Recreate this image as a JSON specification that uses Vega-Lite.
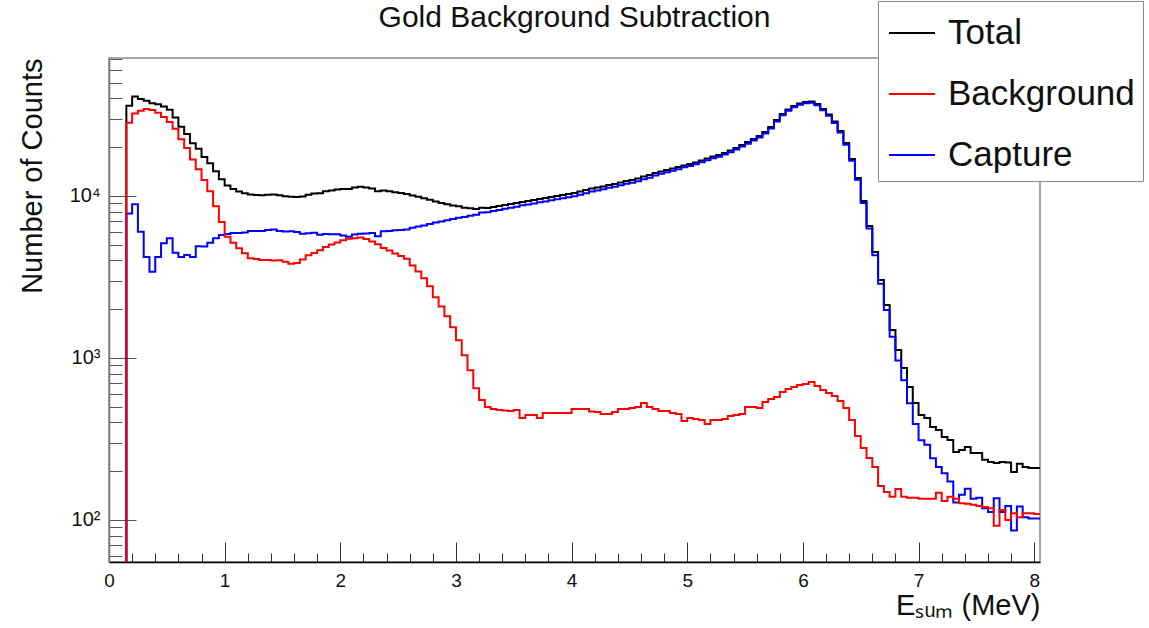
{
  "$schema": "https://vega.github.io/schema/vega-lite/v6.json",
  "width": 931,
  "height": 504,
  "autosize": {"type": "none"},
  "padding": {"left": 109, "top": 58, "right": 109, "bottom": 66},
  "background": "white",
  "config": {
    "view": {"stroke": "#8a8a8a", "strokeWidth": 1.5},
    "font": "Liberation Sans"
  },
  "title": {
    "text": "Gold Background Subtraction",
    "fontSize": 30,
    "font": "Liberation Sans",
    "fontWeight": "normal",
    "color": "#111111",
    "anchor": "middle",
    "frame": "group",
    "baseline": "alphabetic",
    "offset": -56
  },
  "data": {
    "values": [
      {"E": 0.10, "Total": 1, "Background": 1, "Capture": 1},
      {"E": 0.15, "Total": 36100, "Background": 28300, "Capture": 7800},
      {"E": 0.20, "Total": 41200, "Background": 32300, "Capture": 8900},
      {"E": 0.25, "Total": 39700, "Background": 33600, "Capture": 6020},
      {"E": 0.30, "Total": 38700, "Background": 34400, "Capture": 4200},
      {"E": 0.35, "Total": 37400, "Background": 33900, "Capture": 3410},
      {"E": 0.40, "Total": 36900, "Background": 32700, "Capture": 4200},
      {"E": 0.45, "Total": 35700, "Background": 30700, "Capture": 5100},
      {"E": 0.50, "Total": 34100, "Background": 28600, "Capture": 5480},
      {"E": 0.55, "Total": 30500, "Background": 26000, "Capture": 4470},
      {"E": 0.60, "Total": 26800, "Background": 22400, "Capture": 4200},
      {"E": 0.65, "Total": 24100, "Background": 19750, "Capture": 4320},
      {"E": 0.70, "Total": 21200, "Background": 16800, "Capture": 4200},
      {"E": 0.75, "Total": 19600, "Background": 14600, "Capture": 4900},
      {"E": 0.80, "Total": 17400, "Background": 12560, "Capture": 4870},
      {"E": 0.85, "Total": 15900, "Background": 10700, "Capture": 5150},
      {"E": 0.90, "Total": 14200, "Background": 8650, "Capture": 5480},
      {"E": 0.95, "Total": 12700, "Background": 6900, "Capture": 5740},
      {"E": 1.00, "Total": 11600, "Background": 5600, "Capture": 5830},
      {"E": 1.05, "Total": 11050, "Background": 5150, "Capture": 5900},
      {"E": 1.10, "Total": 10650, "Background": 4750, "Capture": 5900},
      {"E": 1.15, "Total": 10380, "Background": 4430, "Capture": 5950},
      {"E": 1.20, "Total": 10200, "Background": 4120, "Capture": 6080},
      {"E": 1.25, "Total": 10150, "Background": 4080, "Capture": 6070},
      {"E": 1.30, "Total": 10100, "Background": 4020, "Capture": 6080},
      {"E": 1.35, "Total": 10180, "Background": 4020, "Capture": 6160},
      {"E": 1.40, "Total": 10200, "Background": 4000, "Capture": 6200},
      {"E": 1.45, "Total": 10090, "Background": 4010, "Capture": 6080},
      {"E": 1.50, "Total": 9950, "Background": 3920, "Capture": 6030},
      {"E": 1.55, "Total": 9880, "Background": 3820, "Capture": 6060},
      {"E": 1.60, "Total": 9860, "Background": 3860, "Capture": 6000},
      {"E": 1.65, "Total": 9910, "Background": 4060, "Capture": 5850},
      {"E": 1.70, "Total": 10190, "Background": 4300, "Capture": 5890},
      {"E": 1.75, "Total": 10370, "Background": 4450, "Capture": 5920},
      {"E": 1.80, "Total": 10400, "Background": 4630, "Capture": 5770},
      {"E": 1.85, "Total": 10680, "Background": 4850, "Capture": 5830},
      {"E": 1.90, "Total": 10830, "Background": 5020, "Capture": 5810},
      {"E": 1.95, "Total": 10980, "Background": 5170, "Capture": 5810},
      {"E": 2.00, "Total": 11030, "Background": 5330, "Capture": 5700},
      {"E": 2.05, "Total": 11050, "Background": 5450, "Capture": 5600},
      {"E": 2.10, "Total": 11270, "Background": 5480, "Capture": 5790},
      {"E": 2.15, "Total": 11390, "Background": 5540, "Capture": 5850},
      {"E": 2.20, "Total": 11300, "Background": 5430, "Capture": 5870},
      {"E": 2.25, "Total": 11140, "Background": 5230, "Capture": 5910},
      {"E": 2.30, "Total": 10700, "Background": 5040, "Capture": 5650},
      {"E": 2.35, "Total": 10830, "Background": 4770, "Capture": 6060},
      {"E": 2.40, "Total": 10680, "Background": 4600, "Capture": 6080},
      {"E": 2.45, "Total": 10560, "Background": 4420, "Capture": 6140},
      {"E": 2.50, "Total": 10420, "Background": 4260, "Capture": 6160},
      {"E": 2.55, "Total": 10300, "Background": 4100, "Capture": 6200},
      {"E": 2.60, "Total": 10080, "Background": 3720, "Capture": 6360},
      {"E": 2.65, "Total": 9900, "Background": 3420, "Capture": 6480},
      {"E": 2.70, "Total": 9680, "Background": 3100, "Capture": 6580},
      {"E": 2.75, "Total": 9490, "Background": 2770, "Capture": 6720},
      {"E": 2.80, "Total": 9240, "Background": 2370, "Capture": 6870},
      {"E": 2.85, "Total": 9050, "Background": 2080, "Capture": 6970},
      {"E": 2.90, "Total": 8900, "Background": 1810, "Capture": 7090},
      {"E": 2.95, "Total": 8750, "Background": 1545, "Capture": 7200},
      {"E": 3.00, "Total": 8630, "Background": 1285, "Capture": 7345},
      {"E": 3.05, "Total": 8470, "Background": 1040, "Capture": 7430},
      {"E": 3.10, "Total": 8400, "Background": 840, "Capture": 7560},
      {"E": 3.15, "Total": 8300, "Background": 650, "Capture": 7650},
      {"E": 3.20, "Total": 8450, "Background": 550, "Capture": 7900},
      {"E": 3.25, "Total": 8433, "Background": 498, "Capture": 7935},
      {"E": 3.30, "Total": 8554, "Background": 484, "Capture": 8070},
      {"E": 3.35, "Total": 8676, "Background": 478, "Capture": 8198},
      {"E": 3.40, "Total": 8800, "Background": 474, "Capture": 8326},
      {"E": 3.45, "Total": 8926, "Background": 471, "Capture": 8455},
      {"E": 3.50, "Total": 9054, "Background": 478, "Capture": 8576},
      {"E": 3.55, "Total": 9184, "Background": 426, "Capture": 8758},
      {"E": 3.60, "Total": 9313, "Background": 445, "Capture": 8868},
      {"E": 3.65, "Total": 9447, "Background": 445, "Capture": 9002},
      {"E": 3.70, "Total": 9583, "Background": 426, "Capture": 9157},
      {"E": 3.75, "Total": 9720, "Background": 458, "Capture": 9262},
      {"E": 3.80, "Total": 9860, "Background": 458, "Capture": 9402},
      {"E": 3.85, "Total": 10000, "Background": 458, "Capture": 9542},
      {"E": 3.90, "Total": 10140, "Background": 458, "Capture": 9682},
      {"E": 3.95, "Total": 10290, "Background": 458, "Capture": 9832},
      {"E": 4.00, "Total": 10435, "Background": 484, "Capture": 9951},
      {"E": 4.05, "Total": 10660, "Background": 484, "Capture": 10176},
      {"E": 4.10, "Total": 10890, "Background": 484, "Capture": 10406},
      {"E": 4.15, "Total": 11130, "Background": 468, "Capture": 10662},
      {"E": 4.20, "Total": 11285, "Background": 464, "Capture": 10821},
      {"E": 4.25, "Total": 11447, "Background": 451, "Capture": 10996},
      {"E": 4.30, "Total": 11694, "Background": 451, "Capture": 11243},
      {"E": 4.35, "Total": 11862, "Background": 464, "Capture": 11398},
      {"E": 4.40, "Total": 12116, "Background": 484, "Capture": 11632},
      {"E": 4.45, "Total": 12377, "Background": 484, "Capture": 11893},
      {"E": 4.50, "Total": 12555, "Background": 491, "Capture": 12064},
      {"E": 4.55, "Total": 12826, "Background": 498, "Capture": 12328},
      {"E": 4.60, "Total": 13196, "Background": 528, "Capture": 12668},
      {"E": 4.65, "Total": 13480, "Background": 498, "Capture": 12982},
      {"E": 4.70, "Total": 13870, "Background": 484, "Capture": 13386},
      {"E": 4.75, "Total": 14170, "Background": 471, "Capture": 13699},
      {"E": 4.80, "Total": 14470, "Background": 471, "Capture": 13999},
      {"E": 4.85, "Total": 14780, "Background": 458, "Capture": 14322},
      {"E": 4.90, "Total": 15100, "Background": 451, "Capture": 14649},
      {"E": 4.95, "Total": 15430, "Background": 408, "Capture": 15022},
      {"E": 5.00, "Total": 15760, "Background": 426, "Capture": 15334},
      {"E": 5.05, "Total": 16100, "Background": 420, "Capture": 15680},
      {"E": 5.10, "Total": 16560, "Background": 414, "Capture": 16146},
      {"E": 5.15, "Total": 17040, "Background": 391, "Capture": 16649},
      {"E": 5.20, "Total": 17530, "Background": 414, "Capture": 17116},
      {"E": 5.25, "Total": 17910, "Background": 414, "Capture": 17496},
      {"E": 5.30, "Total": 18430, "Background": 420, "Capture": 18010},
      {"E": 5.35, "Total": 19090, "Background": 439, "Capture": 18651},
      {"E": 5.40, "Total": 19790, "Background": 445, "Capture": 19345},
      {"E": 5.45, "Total": 20650, "Background": 451, "Capture": 20199},
      {"E": 5.50, "Total": 21540, "Background": 498, "Capture": 21042},
      {"E": 5.55, "Total": 22480, "Background": 498, "Capture": 21982},
      {"E": 5.60, "Total": 23460, "Background": 491, "Capture": 22969},
      {"E": 5.65, "Total": 24850, "Background": 535, "Capture": 24315},
      {"E": 5.70, "Total": 26670, "Background": 558, "Capture": 26112},
      {"E": 5.75, "Total": 29450, "Background": 574, "Capture": 28876},
      {"E": 5.80, "Total": 32080, "Background": 617, "Capture": 31463},
      {"E": 5.85, "Total": 34200, "Background": 644, "Capture": 33556},
      {"E": 5.90, "Total": 35940, "Background": 662, "Capture": 35278},
      {"E": 5.95, "Total": 37240, "Background": 681, "Capture": 36559},
      {"E": 6.00, "Total": 38040, "Background": 691, "Capture": 37349},
      {"E": 6.05, "Total": 38310, "Background": 711, "Capture": 37599},
      {"E": 6.10, "Total": 36980, "Background": 672, "Capture": 36308},
      {"E": 6.15, "Total": 34440, "Background": 635, "Capture": 33805},
      {"E": 6.20, "Total": 31850, "Background": 608, "Capture": 31242},
      {"E": 6.25, "Total": 28840, "Background": 583, "Capture": 28257},
      {"E": 6.30, "Total": 25190, "Background": 543, "Capture": 24647},
      {"E": 6.35, "Total": 21240, "Background": 491, "Capture": 20749},
      {"E": 6.40, "Total": 16920, "Background": 414, "Capture": 16506},
      {"E": 6.45, "Total": 12910, "Background": 330, "Capture": 12580},
      {"E": 6.50, "Total": 9313, "Background": 278, "Capture": 9035},
      {"E": 6.55, "Total": 6529, "Background": 241, "Capture": 6288},
      {"E": 6.60, "Total": 4511, "Background": 212, "Capture": 4299},
      {"E": 6.65, "Total": 3030, "Background": 162, "Capture": 2868},
      {"E": 6.70, "Total": 2124, "Background": 149, "Capture": 1975},
      {"E": 6.75, "Total": 1489, "Background": 139, "Capture": 1350},
      {"E": 6.80, "Total": 1120, "Background": 155, "Capture": 965},
      {"E": 6.85, "Total": 868, "Background": 139, "Capture": 729},
      {"E": 6.90, "Total": 662, "Background": 137, "Capture": 525},
      {"E": 6.95, "Total": 528, "Background": 137, "Capture": 391},
      {"E": 7.00, "Total": 445, "Background": 135, "Capture": 310},
      {"E": 7.05, "Total": 426, "Background": 135, "Capture": 291},
      {"E": 7.10, "Total": 375, "Background": 135, "Capture": 240},
      {"E": 7.15, "Total": 359, "Background": 147, "Capture": 212},
      {"E": 7.20, "Total": 325, "Background": 131, "Capture": 194},
      {"E": 7.25, "Total": 312, "Background": 139, "Capture": 173},
      {"E": 7.30, "Total": 263, "Background": 135, "Capture": 128},
      {"E": 7.35, "Total": 270, "Background": 127, "Capture": 143},
      {"E": 7.40, "Total": 282, "Background": 126, "Capture": 156},
      {"E": 7.45, "Total": 259, "Background": 124, "Capture": 135},
      {"E": 7.50, "Total": 259, "Background": 122, "Capture": 137},
      {"E": 7.55, "Total": 235, "Background": 120, "Capture": 118},
      {"E": 7.60, "Total": 228, "Background": 118, "Capture": 112},
      {"E": 7.65, "Total": 225, "Background": 92, "Capture": 136},
      {"E": 7.70, "Total": 228, "Background": 115, "Capture": 112},
      {"E": 7.75, "Total": 226, "Background": 100, "Capture": 122},
      {"E": 7.80, "Total": 198, "Background": 110, "Capture": 86},
      {"E": 7.85, "Total": 222, "Background": 104, "Capture": 121},
      {"E": 7.90, "Total": 212, "Background": 110, "Capture": 104},
      {"E": 7.95, "Total": 209, "Background": 110, "Capture": 102},
      {"E": 8.00, "Total": 209, "Background": 109, "Capture": 102},
      {"E": 8.05, "Total": 209, "Background": 109, "Capture": 102}
    ]
  },
  "transform": [
    {"fold": ["Total", "Background", "Capture"], "as": ["series", "counts"]}
  ],
  "encoding": {
    "x": {
      "field": "E",
      "type": "quantitative",
      "scale": {"domain": [0, 8.05], "nice": false, "zero": false},
      "axis": {
        "values": [0, 0.2, 0.4, 0.6, 0.8, 1, 1.2, 1.4, 1.6, 1.8, 2, 2.2, 2.4, 2.6, 2.8, 3, 3.2, 3.4, 3.6, 3.8, 4, 4.2, 4.4, 4.6, 4.8, 5, 5.2, 5.4, 5.6, 5.8, 6, 6.2, 6.4, 6.6, 6.8, 7, 7.2, 7.4, 7.6, 7.8, 8],
        "labelExpr": "datum.value % 1 === 0 ? format(datum.value, 'd') : ''",
        "tickSize": {"condition": {"test": "datum.value % 1 === 0", "value": -20}, "value": -9},
        "tickColor": "#333333",
        "tickWidth": 1,
        "domainColor": "#000000",
        "domainWidth": 1.5,
        "grid": false,
        "labelFont": "Liberation Sans",
        "labelFontSize": 19,
        "labelColor": "#111111",
        "labelPadding": 29,
        "labelFlush": false,
        "labelOverlap": false,
        "title": "Eₛᵤₘ (MeV)",
        "titleFont": "Liberation Sans",
        "titleFontSize": 29,
        "titleFontWeight": "normal",
        "titleColor": "#111111",
        "titleAnchor": "end",
        "titlePadding": -10
      }
    },
    "y": {
      "field": "counts",
      "type": "quantitative",
      "scale": {"type": "log", "domain": [55, 71100], "nice": false},
      "axis": {
        "values": [60, 70, 80, 90, 100, 200, 300, 400, 500, 600, 700, 800, 900, 1000, 2000, 3000, 4000, 5000, 6000, 7000, 8000, 9000, 10000, 20000, 30000, 40000, 50000, 60000, 70000],
        "labelExpr": "datum.value === 100 ? '10²' : datum.value === 1000 ? '10³' : datum.value === 10000 ? '10⁴' : ''",
        "tickSize": {"condition": {"test": "datum.value === 100 || datum.value === 1000 || datum.value === 10000", "value": -27}, "value": -13},
        "tickColor": "#555555",
        "tickWidth": 1,
        "domainColor": "#777777",
        "domainWidth": 1.5,
        "grid": false,
        "labelFont": "Liberation Sans",
        "labelFontSize": 20,
        "labelColor": "#111111",
        "labelPadding": 36,
        "labelOverlap": false,
        "title": "Number of Counts",
        "titleFont": "Liberation Sans",
        "titleFontSize": 29,
        "titleFontWeight": "normal",
        "titleColor": "#111111",
        "titleAnchor": "end",
        "titlePadding": 22
      }
    },
    "color": {
      "field": "series",
      "type": "nominal",
      "scale": {"domain": ["Total", "Background", "Capture"], "range": ["#000000", "#ff0000", "#0000ff"]},
      "legend": {
        "orient": "none",
        "legendX": 769,
        "legendY": -57,
        "title": null,
        "symbolType": "stroke",
        "symbolSize": 2116,
        "symbolStrokeWidth": 2,
        "symbolOffset": 2,
        "labelFont": "Liberation Sans",
        "labelFontSize": 35,
        "labelColor": "#111111",
        "labelOffset": 12,
        "labelLimit": 400,
        "rowPadding": 19,
        "padding": 8,
        "fillColor": "white",
        "strokeColor": "#8a8a8a"
      }
    }
  },
  "layer": [
    {
      "transform": [{"filter": "datum.series === 'Total'"}],
      "mark": {"type": "line", "interpolate": "step-after", "strokeWidth": 2, "clip": true}
    },
    {
      "transform": [{"filter": "datum.series === 'Capture'"}],
      "mark": {"type": "line", "interpolate": "step-after", "strokeWidth": 2, "clip": true}
    },
    {
      "transform": [{"filter": "datum.series === 'Background'"}],
      "mark": {"type": "line", "interpolate": "step-after", "strokeWidth": 2, "clip": true}
    }
  ]
}
